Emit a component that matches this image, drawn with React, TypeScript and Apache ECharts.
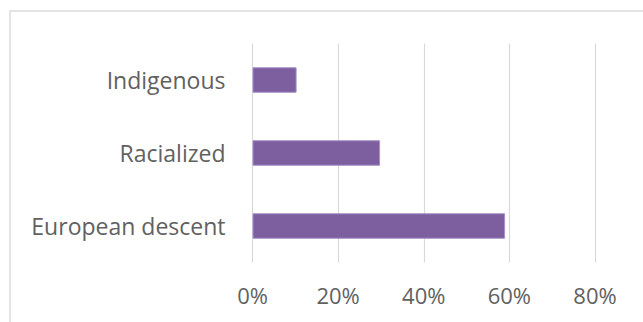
import React, { useEffect, useRef } from "react";
import * as echarts from "echarts";

const categories = ["European descent", "Racialized", "Indigenous"];
const shares = [59, 29.8, 10.3];
const tickMax = 80;
const tickStep = 20;

export default function App() {
  const ref = useRef<HTMLDivElement>(null);
  useEffect(() => {
    document.body.style.margin = "0";
    const chart = echarts.init(ref.current!, null, { renderer: "svg" });
    const font = "'Open Sans', sans-serif";
    chart.setOption({
      animation: false,
      backgroundColor: "#ffffff",
      graphic: [
        {
          type: "rect",
          shape: { x: 10, y: 11, width: 700, height: 400 },
          style: { fill: "none", stroke: "#dcdcdc", lineWidth: 1.5 },
          silent: true,
        },
      ],
      grid: { left: 252.5, top: 43.5, right: 48, height: 219 },
      xAxis: {
        type: "value",
        min: 0,
        max: tickMax,
        interval: tickStep,
        axisLine: { show: false },
        axisTick: { show: false },
        splitLine: { show: true, lineStyle: { color: "#d9d9d9", width: 1.2 } },
        axisLabel: {
          formatter: (v: number) => v + "%",
          color: "#616161",
          fontFamily: font,
          fontSize: 22,
          margin: 21,
        },
      },
      yAxis: {
        type: "category",
        data: categories,
        axisLine: { show: false },
        axisTick: { show: false },
        axisLabel: {
          color: "#616161",
          fontFamily: font,
          fontSize: 23,
          margin: 27,
        },
      },
      series: [
        {
          type: "bar",
          data: shares,
          barWidth: 25.5,
          itemStyle: { color: "#7d5fa0", borderColor: "#a690c6", borderWidth: 1 },
        },
      ],
    });
    return () => chart.dispose();
  }, []);
  return <div ref={ref} style={{ width: 643, height: 322 }} />;
}
